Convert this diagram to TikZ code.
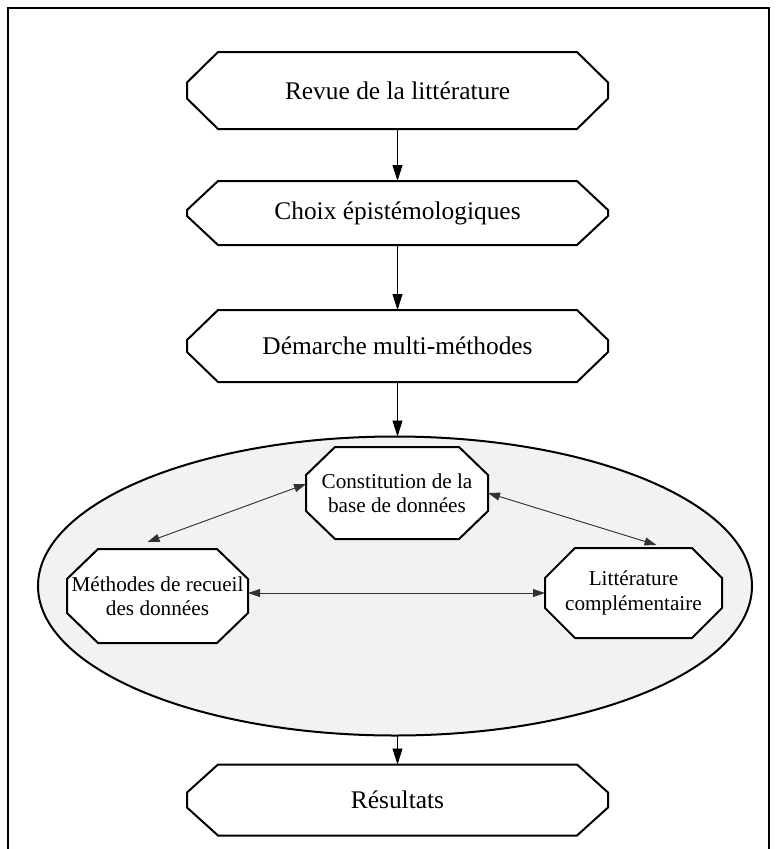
\documentclass[tikz,border=0pt]{standalone}
\usepackage{fontspec}
\setmainfont{Liberation Serif}
\usetikzlibrary{arrows.meta,calc,shapes.geometric}
\definecolor{ellfill}{RGB}{242,242,242}
\definecolor{dblcol}{RGB}{50,50,50}
\pgfdeclarelayer{bg}
\pgfdeclarelayer{shp}
\pgfsetlayers{bg,shp,main}
% #1 node name, #2 horizontal cut, #3 vertical cut
\newcommand\chamferbox[3]{%
  \begin{pgfonlayer}{shp}
  \draw[boxline] ($(#1.north west)+(#2,0)$) -- ($(#1.north east)+(-#2,0)$)
    -- ($(#1.north east)+(0,#3)$) -- ($(#1.south east)+(0,-#3)$)
    -- ($(#1.south east)+(-#2,0)$) -- ($(#1.south west)+(#2,0)$)
    -- ($(#1.south west)+(0,-#3)$) -- ($(#1.north west)+(0,#3)$) -- cycle;
  \end{pgfonlayer}}
\begin{document}
\begin{tikzpicture}[x=1pt,y=-1pt,
  boxline/.style={line width=2pt, fill=white, line join=miter},
  bigbox/.style={rectangle, inner sep=0pt, outer sep=0pt, minimum width=421pt,
    font=\fontsize{25.4}{30}\selectfont},
  smallbox/.style={rectangle, inner sep=0pt, outer sep=0pt, align=center,
    font=\fontsize{21.2}{24.5}\selectfont},
  flow/.style={-{Triangle[length=16pt,width=10pt]}, line width=0.8pt},
  dbl/.style={{Triangle[length=12pt,width=8pt]}-{Triangle[length=12pt,width=8pt]},
    draw=dblcol, fill=dblcol, line width=0.9pt}]
\useasboundingbox (0,0) rectangle (777,849);
\draw[line width=2pt] (8,8) rectangle (769,900);

% main column
\node[bigbox, minimum height=77pt] (revue) at (397.5,90.5) {Revue de la littérature};
\node[bigbox, minimum height=64pt] (choix) at (397.5,213) {Choix épistémologiques};
\node[bigbox, minimum height=72pt] (demarche) at (397.5,346) {Démarche multi-méthodes};
\node[bigbox, minimum height=71pt] (resultats) at (397.5,800) {Résultats};
\chamferbox{revue}{31}{30.5}
\chamferbox{choix}{31}{29}
\chamferbox{demarche}{31}{30}
\chamferbox{resultats}{31}{28}

% group ellipse
\begin{pgfonlayer}{bg}
\node[ellipse, draw, line width=2pt, fill=ellfill, inner sep=0pt, outer sep=0pt,
  minimum width=714pt, minimum height=299pt] (grp) at (395,586) {};
\end{pgfonlayer}

% inner boxes
\node[smallbox, minimum width=182pt, minimum height=92pt] (const) at (397,493)
  {Constitution de la\\base de données};
\node[smallbox, minimum width=181pt, minimum height=94pt] (meth) at (157.5,596)
  {Méthodes de recueil\\des données};
\node[smallbox, minimum width=177pt, minimum height=90pt] (litt) at (633.5,593)
  {Littérature\\complémentaire};
\chamferbox{const}{29}{28}
\chamferbox{meth}{31}{30}
\chamferbox{litt}{30}{30}

% vertical connectors
\draw[flow] (revue.south) -- (choix.north);
\draw[flow] (choix.south) -- (demarche.north);
\draw[flow] (demarche.south) -- (demarche.south |- grp.north);
\draw[flow] (resultats.north |- grp.south) -- (resultats.north);

% double-headed connectors
\coordinate (methtop) at ($(meth.north)+(-10,-7)$);
\coordinate (consleft) at ($(const.west)+(0,-9)$);
\coordinate (litttop) at ($(litt.north)+(23,-3)$);
\draw[dbl] (methtop) -- (consleft);
\draw[dbl] (const.east) -- (litttop);
\draw[dbl] (meth.east |- litt.west) -- (litt.west);
\end{tikzpicture}
\end{document}
